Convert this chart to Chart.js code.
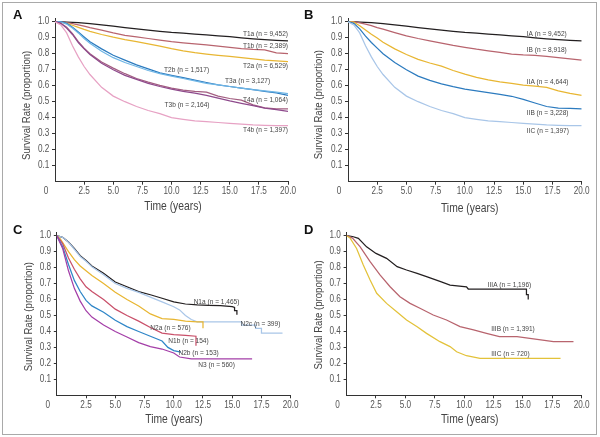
<!DOCTYPE html>
<html><head><meta charset="utf-8">
<script src="https://cdn.jsdelivr.net/npm/chart.js@4.4.1/dist/chart.umd.min.js"></script>
<style>
html,body{margin:0;padding:0;background:#fff;}
#wrap{position:relative;width:600px;height:437px;overflow:hidden;background:#fff;}
#frame{position:absolute;left:2px;top:1.5px;width:595px;height:433px;box-sizing:border-box;border:1.5px solid #a9a9a9;}
canvas{position:absolute;}
.letter{position:absolute;font:bold 13px 'Liberation Sans',Arial,sans-serif;line-height:13px;color:#111;}
</style></head><body>
<div id="wrap">
<div id="frame"></div>
<canvas id="cA" width="300" height="218" style="left:0;top:0"></canvas>
<canvas id="cB" width="300" height="218" style="left:300px;top:0"></canvas>
<canvas id="cC" width="300" height="219" style="left:0;top:218px"></canvas>
<canvas id="cD" width="300" height="219" style="left:300px;top:218px"></canvas>
<div class="letter" style="left:13px;top:8.3px">A</div>
<div class="letter" style="left:304px;top:8.3px">B</div>
<div class="letter" style="left:13px;top:223.3px">C</div>
<div class="letter" style="left:304px;top:223.3px">D</div>
</div>
<script>
// ---------- tick labels ----------
const xTicks = [0, 2.5, 5, 7.5, 10, 12.5, 15, 17.5, 20];
const yTicks = [0.1, 0.2, 0.3, 0.4, 0.5, 0.6, 0.7, 0.8, 0.9, 1.0];
const xTitle = 'Time (years)';
const yTitle = 'Survival Rate (proportion)';

// ---------- Panel A (T category) ----------
const tA  = [0,0.5,1,1.5,2,2.5,3,4,5,6,7,8,9,10,11,12,13,14,15,16,17,18,19,20];
const T1a = [1,1,0.998,0.996,0.994,0.991,0.988,0.98,0.972,0.963,0.955,0.947,0.94,0.933,0.928,0.923,0.918,0.912,0.906,0.899,0.893,0.888,0.884,0.88];
const T1b = [1,1,0.995,0.988,0.98,0.972,0.963,0.947,0.93,0.915,0.905,0.895,0.885,0.875,0.868,0.862,0.855,0.847,0.84,0.832,0.827,0.824,0.805,0.80];
const T2a = [1,0.998,0.99,0.978,0.965,0.952,0.94,0.92,0.903,0.888,0.875,0.862,0.848,0.832,0.818,0.806,0.798,0.79,0.783,0.775,0.767,0.76,0.755,0.75];
const T2b = [1,1,0.99,0.965,0.935,0.905,0.875,0.83,0.79,0.76,0.73,0.705,0.68,0.665,0.65,0.635,0.62,0.605,0.595,0.585,0.575,0.565,0.555,0.54];
const T3a = [1,0.998,0.985,0.96,0.93,0.895,0.865,0.815,0.775,0.745,0.72,0.695,0.675,0.66,0.645,0.63,0.615,0.605,0.595,0.585,0.575,0.568,0.56,0.55];
const T3b = [1,0.99,0.96,0.92,0.87,0.83,0.795,0.74,0.70,0.665,0.64,0.615,0.595,0.578,0.565,0.553,0.54,0.522,0.505,0.49,0.475,0.46,0.45,0.44];
const T4a = [1,0.99,0.965,0.925,0.875,0.835,0.80,0.748,0.71,0.675,0.645,0.622,0.602,0.585,0.572,0.565,0.56,0.535,0.52,0.51,0.48,0.462,0.455,0.455];
const T4b = [1,0.98,0.93,0.85,0.78,0.72,0.67,0.59,0.535,0.50,0.47,0.445,0.425,0.40,0.39,0.38,0.375,0.37,0.365,0.36,0.355,0.352,0.35,0.35];

// ---------- Panel B (stage I-II) ----------
const tB  = [0,0.5,1,1.5,2,2.5,3,4,5,6,7,8,9,10,11,12,13,14,15,16,17,18,19,20];
const IA  = [1,1,0.998,0.996,0.994,0.991,0.988,0.98,0.972,0.963,0.955,0.947,0.94,0.933,0.928,0.923,0.918,0.912,0.906,0.899,0.893,0.888,0.884,0.88];
const IB  = [1,1,0.993,0.985,0.975,0.963,0.953,0.932,0.912,0.895,0.88,0.866,0.852,0.84,0.828,0.818,0.808,0.798,0.792,0.789,0.783,0.776,0.768,0.76];
const IIA = [1,0.997,0.975,0.948,0.922,0.898,0.872,0.83,0.795,0.765,0.742,0.722,0.695,0.672,0.652,0.636,0.624,0.614,0.604,0.598,0.59,0.568,0.552,0.54];
const IIB = [1,0.99,0.955,0.91,0.87,0.835,0.80,0.745,0.70,0.66,0.633,0.612,0.594,0.578,0.567,0.557,0.546,0.534,0.515,0.492,0.47,0.46,0.458,0.455];
const IIC = [1,0.98,0.93,0.85,0.78,0.72,0.67,0.59,0.535,0.50,0.47,0.445,0.425,0.40,0.39,0.38,0.375,0.37,0.365,0.36,0.355,0.352,0.35,0.35];

// ---------- Panel C (N category) ----------
const tN1a = [0,0.5,1,1.5,2,2.5,3,4,5,6,7,8,9,10,11,12,13,14,15,15.2,15.2,15.4,15.4];
const N1a  = [1,0.99,0.96,0.92,0.875,0.845,0.81,0.765,0.71,0.68,0.65,0.63,0.608,0.585,0.572,0.566,0.564,0.562,0.555,0.55,0.53,0.53,0.505];
const tN2c = [0,0.5,1,1.5,2,2.5,3,4,5,6,7,8,9,10,10.5,11,11.5,12,15.8,15.8,17,17,17.5,17.5,19.3];
const N2c  = [1,0.99,0.96,0.915,0.87,0.84,0.805,0.755,0.70,0.67,0.645,0.615,0.585,0.555,0.535,0.50,0.475,0.46,0.46,0.44,0.44,0.42,0.42,0.39,0.39];
const tN2a = [0,0.3,1,1.5,2,2.5,3,4,5,6,7,8,9,10,11,12,12.5,12.5];
const N2a  = [1,0.98,0.9,0.85,0.81,0.78,0.75,0.70,0.645,0.60,0.56,0.51,0.48,0.475,0.465,0.46,0.46,0.42];
const tN1b = [0,0.5,1,1.5,2,2.5,3,4,5,6,7,8,9,10,11,11.9,11.9];
const N1b  = [1,0.95,0.86,0.79,0.73,0.68,0.65,0.60,0.54,0.50,0.465,0.425,0.39,0.38,0.375,0.37,0.31];
const tN2b = [0,0.5,1,1.5,2,2.5,3,4,5,6,7,8,9,9.5,10,10.6];
const N2b  = [1,0.93,0.82,0.72,0.65,0.595,0.56,0.52,0.47,0.43,0.40,0.37,0.34,0.30,0.28,0.27];
const tN3  = [0,0.5,1,1.5,2,2.5,3,4,5,6,7,8,9,10,10.5,11.5,16.7];
const N3   = [1,0.92,0.78,0.67,0.59,0.53,0.49,0.44,0.40,0.365,0.33,0.305,0.29,0.265,0.24,0.228,0.228];

// ---------- Panel D (stage III) ----------
const tIIIA = [0,0.5,1,1.7,2.5,3.4,4.3,5.1,6,6.8,8,8.8,10.2,10.35,15.3,15.3,15.45,15.45];
const IIIA  = [1,0.995,0.983,0.93,0.889,0.858,0.806,0.785,0.764,0.743,0.712,0.69,0.68,0.666,0.666,0.63,0.63,0.6];
const tIIIB = [0,0.5,1.14,2,2.84,3.7,4.54,5.4,6.24,7.37,8.5,9.65,10.8,11.9,13,14.5,15.9,17.6,19.3];
const IIIB  = [1,0.985,0.931,0.837,0.754,0.68,0.618,0.576,0.545,0.503,0.472,0.43,0.41,0.388,0.367,0.367,0.353,0.336,0.336];
const tIIIC = [0,0.3,0.85,1.42,2,2.56,3.4,4.26,5.1,6,6.8,7.94,8.8,9.36,10.2,11.35,18.2];
const IIIC  = [1,0.985,0.92,0.816,0.722,0.639,0.576,0.524,0.472,0.43,0.388,0.336,0.305,0.273,0.248,0.232,0.232];

// ---------- styling ----------
const FONT = "'Liberation Sans',Arial,sans-serif";
const SX = 0.82; // horizontal condensing of all chart text
const C = {
  black:'#231f20', rose:'#b8646e', yellow:'#e8b632', blue:'#2c7bbf', cyan:'#6fb6e6',
  purple:'#8e4a8c', mauve:'#a35e80', pink:'#e7a2c4', pale:'#a9c6e8',
  red:'#c9506a', blue2:'#2f86c8', magenta:'#a43fa8', yellow2:'#e3c23a'
};

function ser(t, v, color) {
  return { data: t.map((x, i) => ({ x: x, y: v[i] })), borderColor: color, borderWidth: 1.25,
           pointRadius: 0, showLine: true, fill: false, tension: 0 };
}

function txt(ctx, s, x, y, align, rot) {
  ctx.save();
  ctx.translate(x, y);
  if (rot) ctx.rotate(rot);
  ctx.scale(SX, 1);
  ctx.textAlign = align;
  ctx.fillText(s, 0, 0);
  ctx.restore();
}

function textPlugin(notes, g) {
  return { id: 'texts', afterDraw(chart) {
    const ctx = chart.ctx, x = chart.scales.x, y = chart.scales.y;
    ctx.save();
    ctx.textBaseline = 'middle';
    // tick labels
    ctx.fillStyle = '#555';
    ctx.font = '10px ' + FONT;
    xTicks.forEach(v => {
      const px = x.getPixelForValue(v) - (v === 0 ? 9 : 0);
      txt(ctx, v === 0 ? '0' : v.toFixed(1), px, x.top + 10, 'center');
    });
    yTicks.forEach(v => txt(ctx, v.toFixed(1), y.right - 5.7, y.getPixelForValue(v), 'right'));
    // axis titles
    ctx.fillStyle = '#444';
    ctx.font = '12.6px ' + FONT;
    txt(ctx, xTitle, g.xtx, g.xty, 'center');
    ctx.font = '11.7px ' + FONT;
    txt(ctx, yTitle, g.ytx, g.yty, 'center', -Math.PI / 2);
    // curve labels
    ctx.fillStyle = '#444';
    ctx.font = '8px ' + FONT;
    notes.forEach(n => txt(ctx, n.text, x.getPixelForValue(n.t), y.getPixelForValue(n.v), n.align));
    ctx.restore();
  }};
}

function makePanel(id, datasets, notes, g) {
  new Chart(document.getElementById(id), {
    type: 'scatter',
    data: { datasets: datasets },
    options: {
      responsive: false, animation: false, devicePixelRatio: 1,
      layout: { padding: { left: 0, right: g.right, top: g.top, bottom: 0 } },
      plugins: { legend: { display: false }, tooltip: { enabled: false } },
      scales: {
        x: { type: 'linear', min: 0, max: 20,
          afterBuildTicks: s => { s.ticks = xTicks.filter(v => v > 0).map(v => ({ value: v })); },
          afterFit: s => { s.height = g.xh; },
          ticks: { display: false },
          grid: { drawOnChartArea: false, drawTicks: true, tickLength: 3, color: '#333' },
          border: { display: true, color: '#333', width: 1 },
          title: { display: false }
        },
        y: { type: 'linear', min: 0, max: 1.02,
          afterBuildTicks: s => { s.ticks = yTicks.map(v => ({ value: v })); },
          afterFit: s => { s.width = g.yw; },
          ticks: { display: false },
          grid: { drawOnChartArea: false, drawTicks: true, tickLength: 3, color: '#333' },
          border: { display: true, color: '#333', width: 1 },
          title: { display: false }
        }
      }
    },
    plugins: [textPlugin(notes, g)]
  });
}

makePanel('cA', [
  ser(tA, T4b, C.pink), ser(tA, T3b, C.purple), ser(tA, T4a, C.mauve),
  ser(tA, T3a, C.cyan), ser(tA, T2b, C.blue), ser(tA, T2a, C.yellow),
  ser(tA, T1b, C.rose), ser(tA, T1a, C.black)
], [
  { text: 'T1a (n = 9,452)', t: 20, v: 0.927, align: 'right' },
  { text: 'T1b (n = 2,389)', t: 20, v: 0.848, align: 'right' },
  { text: 'T2a (n = 6,529)', t: 20, v: 0.727, align: 'right' },
  { text: 'T2b (n = 1,517)', t: 9.36, v: 0.700, align: 'left' },
  { text: 'T3a (n = 3,127)', t: 14.6, v: 0.630, align: 'left' },
  { text: 'T4a (n = 1,064)', t: 20, v: 0.510, align: 'right' },
  { text: 'T3b (n = 2,164)', t: 9.4, v: 0.482, align: 'left' },
  { text: 'T4b (n = 1,397)', t: 20, v: 0.327, align: 'right' }
], { right: 12, top: 18.5, xh: 36.3, yw: 55, xtx: 173, xty: 206.7, ytx: 26.7, yty: 105.3 });

makePanel('cB', [
  ser(tB, IIC, C.pale), ser(tB, IIB, C.blue), ser(tB, IIA, C.yellow),
  ser(tB, IB, C.rose), ser(tB, IA, C.black)
], [
  { text: 'IA (n = 9,452)', t: 15.3, v: 0.925, align: 'left' },
  { text: 'IB (n = 8,918)', t: 15.3, v: 0.825, align: 'left' },
  { text: 'IIA (n = 4,644)', t: 15.3, v: 0.625, align: 'left' },
  { text: 'IIB (n = 3,228)', t: 15.3, v: 0.429, align: 'left' },
  { text: 'IIC (n = 1,397)', t: 15.3, v: 0.320, align: 'left' }
], { right: 18.3, top: 18.5, xh: 36.3, yw: 48, xtx: 169.7, xty: 208.3, ytx: 19, yty: 104.7 });

makePanel('cC', [
  ser(tN3, N3, C.magenta), ser(tN2b, N2b, C.blue2), ser(tN1b, N1b, C.red),
  ser(tN2a, N2a, C.yellow), ser(tN2c, N2c, C.pale), ser(tN1a, N1a, C.black)
], [
  { text: 'N1a (n = 1,465)', t: 11.7, v: 0.585, align: 'left' },
  { text: 'N2c (n = 399)', t: 15.7, v: 0.45, align: 'left' },
  { text: 'N2a (n = 576)', t: 8.0, v: 0.424, align: 'left' },
  { text: 'N1b (n = 154)', t: 9.54, v: 0.34, align: 'left' },
  { text: 'N2b (n = 153)', t: 10.4, v: 0.267, align: 'left' },
  { text: 'N3 (n = 560)', t: 12.1, v: 0.19, align: 'left' }
], { right: 9.3, top: 14.5, xh: 41.7, yw: 56.8, xtx: 174, xty: 202, ytx: 28.3, yty: 98.7 });

makePanel('cD', [
  ser(tIIIC, IIIC, C.yellow2), ser(tIIIB, IIIB, C.rose), ser(tIIIA, IIIA, C.black)
], [
  { text: 'IIIA (n = 1,196)', t: 12.0, v: 0.695, align: 'left' },
  { text: 'IIIB (n = 1,391)', t: 12.3, v: 0.415, align: 'left' },
  { text: 'IIIC (n = 720)', t: 12.3, v: 0.263, align: 'left' }
], { right: 18.3, top: 14.5, xh: 41.7, yw: 46.6, xtx: 169.7, xty: 202, ytx: 19, yty: 97 });
</script>
</body></html>
